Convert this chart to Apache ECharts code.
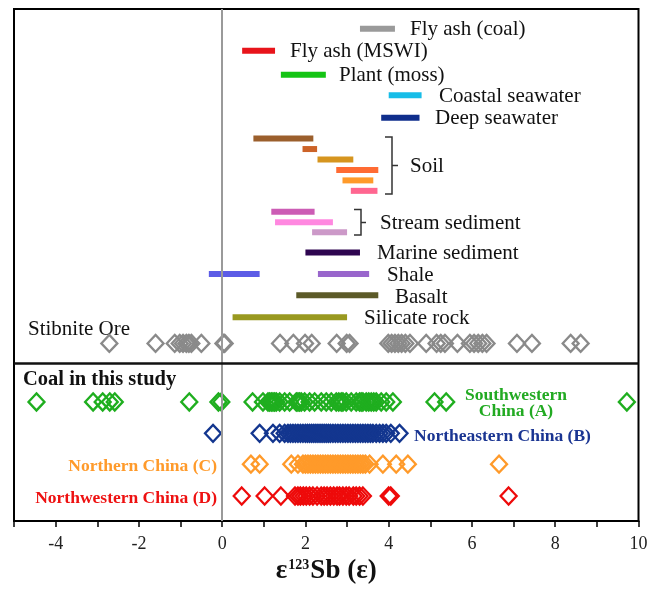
<!DOCTYPE html>
<html>
<head>
<meta charset="utf-8">
<script src="https://cdn.jsdelivr.net/npm/echarts@6/dist/echarts.min.js"></script>
<style>
html,body{margin:0;padding:0;background:#fff;}
#chart{width:661px;height:590px;}
</style>
</head>
<body>
<div id="chart"></div>
<script>
// ---------- data ----------
const xTicks = [-4, -2, 0, 2, 4, 6, 8, 10];

// reference ranges (top panel)
const rangeNames  = ['Fly ash (coal)','Fly ash (MSWI)','Plant (moss)','Coastal seawater','Deep seawater',
  'Soil 1','Soil 2','Soil 3','Soil 4','Soil 5','Soil 6',
  'Stream sediment 1','Stream sediment 2','Stream sediment 3',
  'Marine sediment','Shale 1','Shale 2','Basalt','Silicate rock'];
const rangeStart  = [3.31, 0.48, 1.41, 4.00, 3.82, 0.75, 1.93, 2.29, 2.74, 2.89, 3.09, 1.18, 1.27, 2.16, 2.00, -0.32, 2.30, 1.78, 0.25];
const rangeEnd    = [4.15, 1.27, 2.49, 4.79, 4.74, 2.19, 2.28, 3.15, 3.75, 3.63, 3.73, 2.22, 2.66, 3.00, 3.31, 0.90, 3.53, 3.75, 3.00];
const rangeRow    = [1.9, 4.0, 6.3, 8.25, 10.4, 12.4, 13.4, 14.4, 15.4, 16.4, 17.4, 19.4, 20.4, 21.35, 23.3, 25.35, 25.35, 27.4, 29.5];
const rangeColors = ['#9a9a9a','#e8141b','#14c414','#17bde8','#0f2e8c','#9b5f2c','#cc6328','#d6951f','#ff6b33','#ff9a2a','#ff6690',
  '#cc5cb5','#ff88e0','#cc99c8','#2e0550','#5c5ce6','#9966cc','#5c5a28','#999920'];

// stibnite ore
const stibniteOre = [-2.71, -1.60, -1.14, -1.02, -0.94, -0.86, -0.80, -0.74, -0.50, 0.03, 0.06, 1.39, 1.71, 1.99, 2.15, 2.75, 2.99, 3.06,
  3.99, 4.07, 4.15, 4.23, 4.31, 4.40, 4.51, 4.90, 5.15, 5.25, 5.35, 5.65, 5.95, 6.05, 6.15, 6.25, 6.35, 7.08, 7.44, 8.37, 8.61];
const stibniteRow = 32.0;

// coal in this study
const coalSW = [-4.46, -3.10, -2.87, -2.70, -2.58, -0.79, -0.09, -0.02, 0.73, 0.98, 1.10, 1.14, 1.18, 1.22, 1.26, 1.30, 1.38, 1.50, 1.62,
  1.78, 1.82, 1.86, 1.90, 1.98, 2.10, 2.22, 2.38, 2.50, 2.62, 2.74, 2.80, 2.86, 2.90, 2.98, 3.10, 3.22, 3.30, 3.34, 3.38, 3.46, 3.52,
  3.58, 3.64, 3.70, 3.82, 3.94, 4.10, 5.10, 5.38, 9.72];
const coalNE = [-0.22, 0.90, 1.22, 1.38, 1.50, 1.58, 1.64, 1.70, 1.76, 1.82, 1.88, 1.94, 2.00, 2.05, 2.10, 2.15, 2.20, 2.25, 2.30, 2.35,
  2.40, 2.45, 2.50, 2.55, 2.60, 2.66, 2.72, 2.78, 2.84, 2.90, 2.96, 3.02, 3.08, 3.14, 3.20, 3.26, 3.32, 3.38, 3.44, 3.50, 3.56,
  3.62, 3.70, 3.78, 3.86, 3.94, 4.05, 4.26];
const coalN  = [0.69, 0.90, 1.66, 1.82, 1.94, 2.00, 2.06, 2.12, 2.18, 2.24, 2.30, 2.36, 2.42, 2.48, 2.54, 2.60, 2.66, 2.72, 2.78, 2.84,
  2.90, 2.96, 3.02, 3.08, 3.14, 3.20, 3.26, 3.32, 3.38, 3.44, 3.54, 3.86, 4.18, 4.46, 6.65];
const coalNW = [0.47, 1.02, 1.41, 1.75, 1.82, 1.88, 1.95, 2.02, 2.10, 2.18, 2.28, 2.38, 2.45, 2.52, 2.60, 2.68, 2.76, 2.82, 2.90,
  2.98, 3.05, 3.15, 3.22, 3.30, 3.38, 4.00, 4.05, 6.88];
const coalRows = [37.6, 40.6, 43.55, 46.6];
const dividerRow = 33.85;

// ---------- chart ----------
const SERIF = '"Liberation Serif", "Times New Roman", serif';
const chart = echarts.init(document.getElementById('chart'));

const rangeData = rangeStart.map((s, i) => ({
  name: rangeNames[i],
  value: [s, rangeEnd[i], rangeRow[i]],
  itemStyle: { color: rangeColors[i] }
}));

function diamondSeries(name, xs, row, color) {
  return {
    name: name,
    type: 'scatter',
    symbol: 'diamond',
    symbolSize: [16, 17],
    itemStyle: { color: 'rgba(0,0,0,0)', borderColor: color, borderWidth: 2.3, opacity: 1 },
    emphasis: { disabled: true },
    silent: true,
    data: xs.map(v => [v, row]),
    z: 3
  };
}

function txt(text, x, y, font, fill, align) {
  return { type: 'text', x: x, y: y, silent: true,
    style: { text: text, font: font, fill: fill, textAlign: align || 'left', textVerticalAlign: 'middle' } };
}
const F21 = '21px ' + SERIF;
const B17 = 'bold 17.5px ' + SERIF;

const option = {
  animation: false,
  backgroundColor: '#ffffff',
  grid: { left: 14, right: 22.5, top: 9, bottom: 67, show: true, borderColor: '#000', borderWidth: 2, backgroundColor: 'transparent' },
  xAxis: {
    type: 'value', min: -5, max: 10, interval: 1,
    axisLine: { show: true, onZero: false, lineStyle: { color: '#000', width: 2 } },
    axisTick: { show: true, inside: false, length: 6, lineStyle: { color: '#000', width: 1.5 } },
    splitLine: { show: false },
    axisLabel: {
      margin: 14, color: '#222', fontSize: 18, fontFamily: SERIF,
      formatter: v => (xTicks.indexOf(v) >= 0 ? String(v) : '')
    },
    name: '{a|ε}{b|123}{a|Sb (ε)}',
    nameLocation: 'middle', nameGap: 35,
    nameTextStyle: {
      fontFamily: SERIF, fontWeight: 'bold', fontSize: 27, color: '#111',
      rich: {
        a: { fontFamily: SERIF, fontWeight: 'bold', fontSize: 27, color: '#111' },
        b: { fontFamily: SERIF, fontWeight: 'bold', fontSize: 14, color: '#111', verticalAlign: 'top', padding: [0, 1, 0, 1] }
      }
    }
  },
  yAxis: { type: 'value', min: 0, max: 49, inverse: true, show: false },
  series: [
    {
      name: 'lines', type: 'scatter', data: [], silent: true,
      markLine: {
        silent: true, symbol: 'none', label: { show: false }, animation: false,
        data: [
          { xAxis: 0, lineStyle: { color: '#9a9a9a', width: 2, type: 'solid' } },
          { yAxis: dividerRow, lineStyle: { color: '#111', width: 2.5, type: 'solid' } }
        ]
      },
      z: 1
    },
    {
      name: 'ranges', type: 'custom', silent: true, z: 2,
      renderItem: function (params, api) {
        const y = api.value(2);
        const a = api.coord([api.value(0), y]);
        const b = api.coord([api.value(1), y]);
        return { type: 'rect', shape: { x: a[0], y: a[1] - 3, width: b[0] - a[0], height: 6 },
          style: { fill: api.visual('color') } };
      },
      encode: { x: [0, 1], y: 2 },
      data: rangeData
    },
    diamondSeries('Stibnite Ore', stibniteOre, stibniteRow, '#8a8a8a'),
    diamondSeries('Southwestern China (A)', coalSW, coalRows[0], '#1fae1f'),
    diamondSeries('Northeastern China (B)', coalNE, coalRows[1], '#13368f'),
    diamondSeries('Northern China (C)', coalN, coalRows[2], '#ff9a2a'),
    diamondSeries('Northwestern China (D)', coalNW, coalRows[3], '#ee0a0a')
  ],
  graphic: [
    txt('Fly ash (coal)', 410, 29, F21, '#111'),
    txt('Fly ash (MSWI)', 290, 51, F21, '#111'),
    txt('Plant (moss)', 339, 75, F21, '#111'),
    txt('Coastal seawater', 439, 96, F21, '#111'),
    txt('Deep seawater', 435, 118, F21, '#111'),
    txt('Soil', 410, 166, F21, '#111'),
    txt('Stream sediment', 380, 223, F21, '#111'),
    txt('Marine sediment', 377, 253, F21, '#111'),
    txt('Shale', 387, 275, F21, '#111'),
    txt('Basalt', 395, 297, F21, '#111'),
    txt('Silicate rock', 364, 318, F21, '#111'),
    txt('Stibnite Ore', 28, 329, F21, '#111'),
    txt('Coal in this study', 23, 380, 'bold 20.5px ' + SERIF, '#111'),
    txt('Southwestern', 516, 395, B17, '#22aa22', 'center'),
    txt('China (A)', 516, 411, B17, '#22aa22', 'center'),
    txt('Northeastern China (B)', 414, 436, B17, '#1a3592'),
    txt('Northern China (C)', 217, 466, B17, '#ff9a2a', 'right'),
    txt('Northwestern China (D)', 217, 498, B17, '#ee1111', 'right'),
    { type: 'polyline', silent: true, shape: { points: [[385, 137], [392, 137], [392, 194], [385, 194]] },
      style: { stroke: '#333', lineWidth: 1.5, fill: null } },
    { type: 'line', silent: true, shape: { x1: 392, y1: 165.5, x2: 398, y2: 165.5 }, style: { stroke: '#333', lineWidth: 1.5 } },
    { type: 'polyline', silent: true, shape: { points: [[354, 209.5], [361, 209.5], [361, 235], [354, 235]] },
      style: { stroke: '#333', lineWidth: 1.5, fill: null } },
    { type: 'line', silent: true, shape: { x1: 361, y1: 222.5, x2: 366, y2: 222.5 }, style: { stroke: '#333', lineWidth: 1.5 } }
  ]
};
chart.setOption(option);
</script>
</body>
</html>
